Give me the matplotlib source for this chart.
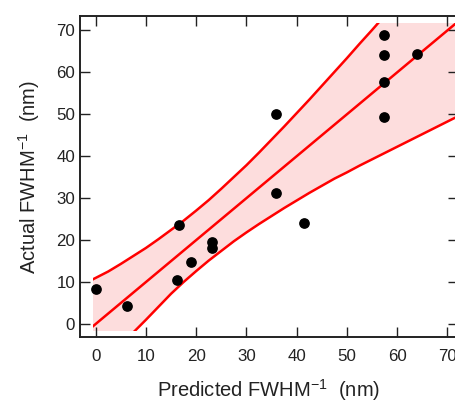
import matplotlib
matplotlib.use("Agg")
import matplotlib.pyplot as plt
from matplotlib.patches import Rectangle

plt.rcParams['font.family'] = ['Liberation Sans', 'DejaVu Sans']
plt.rcParams['mathtext.fontset'] = 'custom'
plt.rcParams['mathtext.rm'] = 'Liberation Sans'
plt.rcParams['mathtext.it'] = 'Liberation Sans:italic'
plt.rcParams['mathtext.bf'] = 'Liberation Sans:bold'

# measured points (predicted vs actual)
predicted = [0.0, 6.3, 16.1, 16.6, 18.9, 23.2, 23.2, 35.9, 35.9, 41.4, 57.3, 57.3, 57.3, 57.3, 64.0]
actual = [8.4, 4.3, 10.4, 23.6, 14.7, 19.5, 18.2, 50.0, 31.3, 24.1, 68.9, 64.0, 57.5, 49.2, 64.4]

# linear fit line
fit_x = [-0.6, 72.0]
fit_y = [-0.6, 71.9]

# band around the fit
band_x = [-0.6, 2.5, 5, 7.5, 10, 12.5, 15, 17.5, 20, 22.5, 25, 27.5, 30, 32.5, 35,
          37.5, 40, 42.5, 45, 47.5, 50, 52.5, 55, 57.5, 60, 62.5, 65, 67.5, 70, 72]
band_hi = [10.6, 12.5, 14.3, 16.2, 18.1, 20.2, 22.4, 24.6, 27.0, 29.5, 32.2, 35.0, 37.8, 40.8, 43.9,
           47.0, 50.2, 53.4, 56.7, 60.0, 63.3, 66.7, 70.0, 73.4, 76.8, 80.2, 83.6, 87.0, 90.4, 93.1]
band_lo = [-12.0, -8.0, -4.8, -2.0, 1.0, 4.1, 7.2, 10.0, 12.6, 15.1, 17.4, 19.7, 21.8, 23.8, 25.7,
           27.6, 29.4, 31.2, 32.9, 34.6, 36.1, 37.7, 39.2, 40.7, 42.2, 43.7, 45.2, 46.7, 48.2, 49.4]

ticks = [0, 10, 20, 30, 40, 50, 60, 70]

W, H = 456, 403
fig = plt.figure(figsize=(W / 100, H / 100), dpi=100)
ax = fig.add_axes([80 / W, (H - 337) / H, (458 - 80) / W, (337 - 16) / H])

ax.set_xlim(-3.12, 72.1)
ax.set_ylim(-3.1, 73.33)

# band is only drawn inside this box
clip = Rectangle((-0.6, -1.6), 80, 71.6 + 1.6, transform=ax.transData,
                 fill=False, visible=False)
ax.add_patch(clip)

fb = ax.fill_between(band_x, band_lo, band_hi, color='#fddddd', lw=0, zorder=1)
fb.set_clip_path(clip)
for yy in (band_hi, band_lo):
    ln, = ax.plot(band_x, yy, color='#ff0000', lw=1.8, zorder=2)
    ln.set_clip_path(clip)
ln, = ax.plot(fit_x, fit_y, color='#ff0000', lw=1.8, zorder=2)
ln.set_clip_path(clip)

ax.plot(predicted, actual, 'o', color='black', ms=6.7, zorder=3, clip_on=False)

ax.set_xticks(ticks)
ax.set_yticks(ticks)
ax.tick_params(direction='in', length=7, width=1, top=True, right=True,
               labelsize=12.2, colors='#222222')
ax.tick_params(axis='x', pad=8.5)
ax.tick_params(axis='y', pad=3.5)
for s in ax.spines.values():
    s.set_linewidth(1.4)
    s.set_color('#222222')

ax.set_xlabel('Predicted FWHM$^{-1}$  (nm)', fontsize=14.5, color='#222222')
ax.set_ylabel('Actual FWHM$^{-1}$  (nm)', fontsize=14.5, color='#222222')
ax.xaxis.set_label_coords(0.5, -0.125)
ax.yaxis.set_label_coords(-0.10, 0.5)

fig.savefig('out.png', dpi=100)
